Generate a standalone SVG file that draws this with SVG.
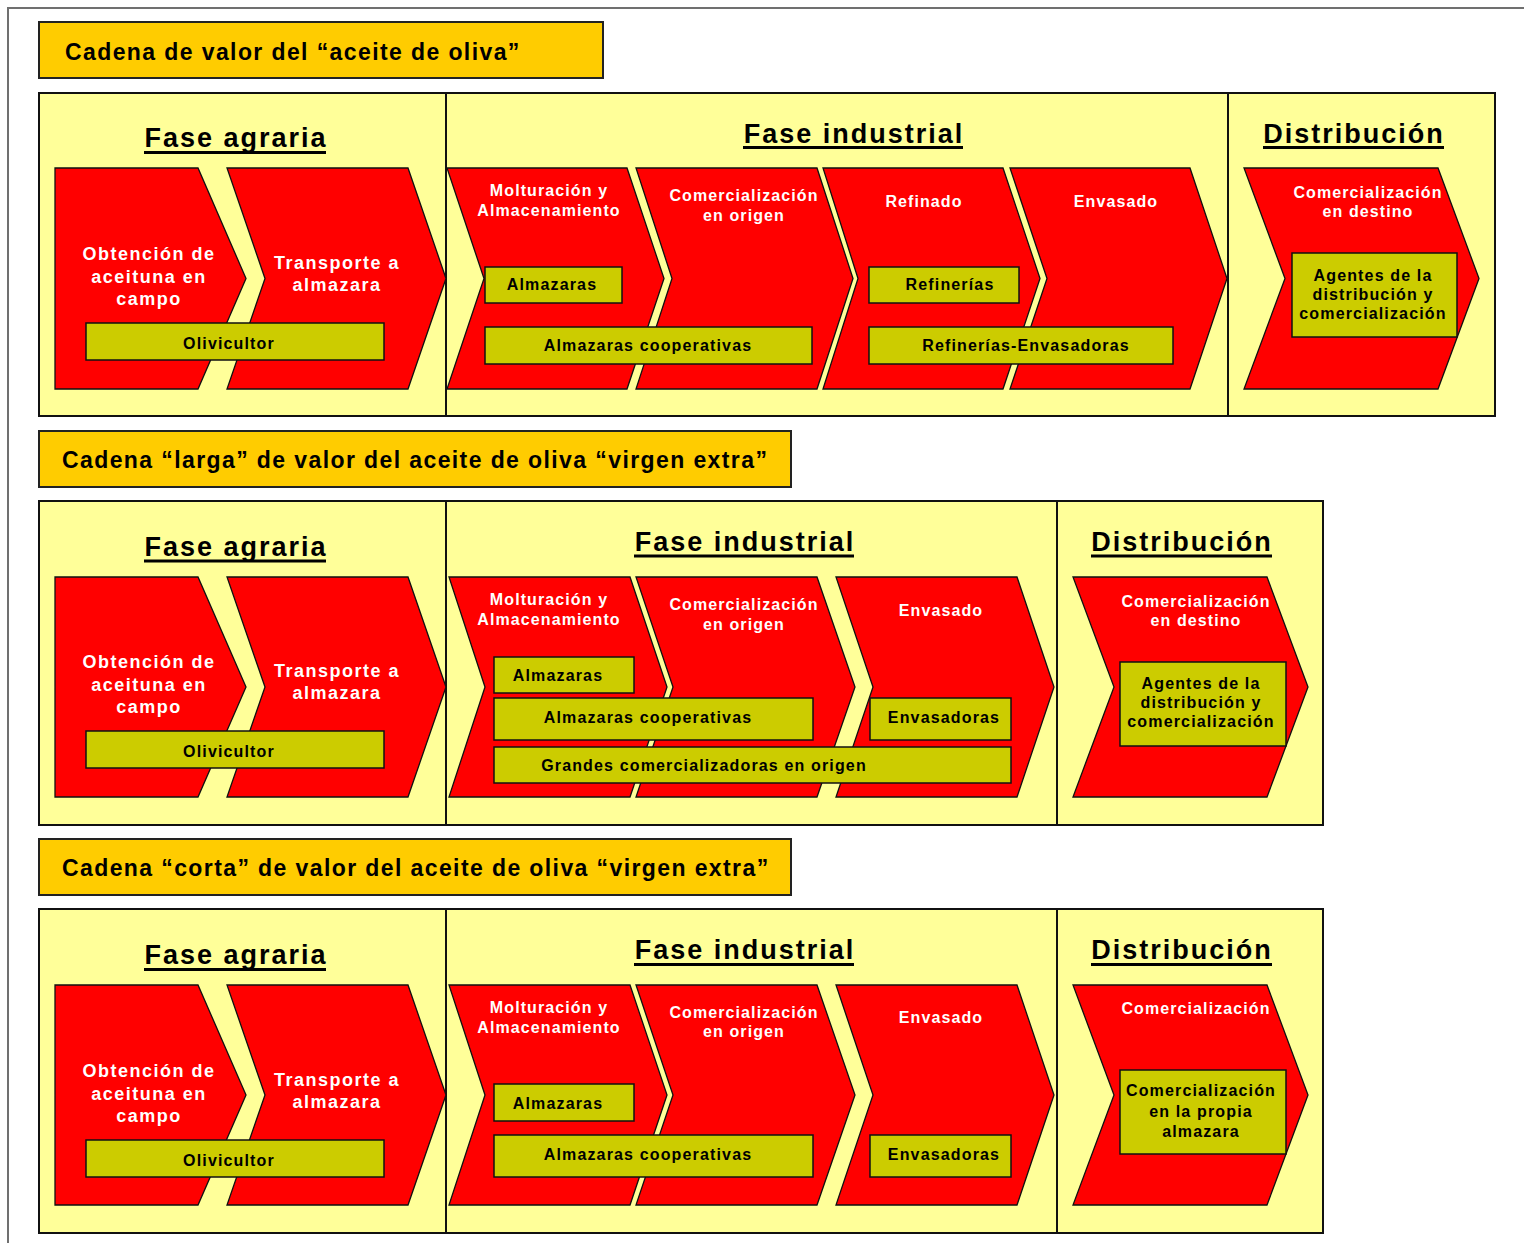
<svg xmlns="http://www.w3.org/2000/svg" width="1524" height="1243" viewBox="0 0 1524 1243">
  <style>
    text { font-family: "Liberation Sans", Arial, sans-serif; font-weight: bold; }
    .frame { fill: none; stroke: #707070; stroke-width: 2; }
    .ttlbox { fill: #FFCC00; stroke: #222; stroke-width: 2; }
    .ttl { font-size: 23px; letter-spacing: 1.4px; fill: #000; }
    .panel { fill: #FFFF99; stroke: #111; stroke-width: 2; }
    .div { stroke: #111; stroke-width: 2; }
    .hdr { font-size: 27px; letter-spacing: 2px; fill: #000; text-anchor: middle; }
    .ul { stroke: #000; stroke-width: 3; }
    .chev { fill: #FF0000; stroke: #111; stroke-width: 1.3; stroke-linejoin: miter; }
    .stepL { font-size: 18px; letter-spacing: 1.5px; fill: #fff; text-anchor: middle; }
    .step { font-size: 16px; letter-spacing: 1.1px; fill: #fff; text-anchor: middle; }
    .actbox { fill: #CCCC00; stroke: #111; stroke-width: 1.5; }
    .act { font-size: 16px; letter-spacing: 1.15px; fill: #000; text-anchor: middle; }
  </style>

  <!-- page frame -->
  <polyline class="frame" points="8,1243 8,8 1524,8"/>

  <!-- ===== Chain 1: olive oil ===== -->
  <g id="chain1">
    <g id="c1-title">
      <rect class="ttlbox" x="39" y="22" width="564" height="56"/>
      <text class="ttl" x="65" y="60">Cadena de valor del “aceite de oliva”</text>
    </g>
    <g id="c1-panel">
      <rect class="panel" x="39" y="93" width="1456" height="323"/>
      <line class="div" x1="446" y1="93" x2="446" y2="416"/>
      <line class="div" x1="1228" y1="93" x2="1228" y2="416"/>
    </g>
    <g id="c1-headers">
      <text class="hdr" x="236" y="147">Fase agraria</text>
      <line class="ul" x1="144" y1="152.5" x2="326" y2="152.5"/>
      <text class="hdr" x="854" y="143">Fase industrial</text>
      <line class="ul" x1="743" y1="147.5" x2="963" y2="147.5"/>
      <text class="hdr" x="1354" y="143">Distribución</text>
      <line class="ul" x1="1263" y1="147.5" x2="1444" y2="147.5"/>
    </g>
    <g id="c1-obtencion">
      <polygon class="chev" points="55,168 198,168 246,278.5 198,389 55,389"/>
      <text class="stepL" x="149" y="260">Obtención de</text>
      <text class="stepL" x="149" y="282.5">aceituna en</text>
      <text class="stepL" x="149" y="305">campo</text>
    </g>
    <g id="c1-transporte">
      <polygon class="chev" points="227,168 408,168 446,278.5 408,389 227,389 265,278.5"/>
      <text class="stepL" x="337" y="269">Transporte a</text>
      <text class="stepL" x="337" y="291">almazara</text>
    </g>
    <g id="c1-molturacion">
      <polygon class="chev" points="447,168 627,168 664,278.5 627,389 447,389 484,278.5"/>
      <text class="step" x="549" y="196">Molturación y</text>
      <text class="step" x="549" y="216">Almacenamiento</text>
    </g>
    <g id="c1-com-origen">
      <polygon class="chev" points="636,168 817,168 853,278.5 817,389 636,389 672,278.5"/>
      <text class="step" x="744" y="201">Comercialización</text>
      <text class="step" x="744" y="221">en origen</text>
    </g>
    <g id="c1-refinado">
      <polygon class="chev" points="823,168 1003,168 1040,278.5 1003,389 823,389 858,278.5"/>
      <text class="step" x="924" y="207">Refinado</text>
    </g>
    <g id="c1-envasado">
      <polygon class="chev" points="1010,168 1190,168 1227,278.5 1190,389 1010,389 1047,278.5"/>
      <text class="step" x="1116" y="207">Envasado</text>
    </g>
    <g id="c1-com-destino">
      <polygon class="chev" points="1244,168 1438,168 1479,278.5 1438,389 1244,389 1285,278.5"/>
      <text class="step" x="1368" y="198">Comercialización</text>
      <text class="step" x="1368" y="217">en destino</text>
    </g>
    <g id="c1-olivicultor">
      <rect class="actbox" x="86" y="323" width="298" height="37"/>
      <text class="act" x="229" y="349">Olivicultor</text>
    </g>
    <g id="c1-almazaras">
      <rect class="actbox" x="485" y="267" width="137" height="36"/>
      <text class="act" x="552" y="290">Almazaras</text>
    </g>
    <g id="c1-almazaras-coop">
      <rect class="actbox" x="485" y="327" width="327" height="37"/>
      <text class="act" x="648" y="351">Almazaras cooperativas</text>
    </g>
    <g id="c1-refinerias">
      <rect class="actbox" x="869" y="267" width="150" height="36"/>
      <text class="act" x="950" y="290">Refinerías</text>
    </g>
    <g id="c1-ref-env">
      <rect class="actbox" x="869" y="327" width="304" height="37"/>
      <text class="act" x="1026" y="351">Refinerías-Envasadoras</text>
    </g>
    <g id="c1-agentes">
      <rect class="actbox" x="1292" y="253" width="165" height="84"/>
      <text class="act" x="1373" y="281">Agentes de la</text>
      <text class="act" x="1373" y="300">distribución y</text>
      <text class="act" x="1373" y="319">comercialización</text>
    </g>
  </g>

  <!-- ===== Chain 2: long chain, extra virgin ===== -->
  <g id="chain2">
    <g id="c2-title">
      <rect class="ttlbox" x="39" y="431" width="752" height="56"/>
      <text class="ttl" x="62" y="468">Cadena “larga” de valor del aceite de oliva “virgen extra”</text>
    </g>
    <g id="c2-panel">
      <rect class="panel" x="39" y="501" width="1284" height="324"/>
      <line class="div" x1="446" y1="501" x2="446" y2="825"/>
      <line class="div" x1="1057" y1="501" x2="1057" y2="825"/>
    </g>
    <g id="c2-headers">
      <text class="hdr" x="236" y="556">Fase agraria</text>
      <line class="ul" x1="144" y1="561" x2="326" y2="561"/>
      <text class="hdr" x="745" y="551">Fase industrial</text>
      <line class="ul" x1="634" y1="556" x2="854" y2="556"/>
      <text class="hdr" x="1182" y="551">Distribución</text>
      <line class="ul" x1="1091" y1="556" x2="1272" y2="556"/>
    </g>
    <g id="c2-obtencion">
      <polygon class="chev" points="55,577 198,577 246,687 198,797 55,797"/>
      <text class="stepL" x="149" y="668">Obtención de</text>
      <text class="stepL" x="149" y="690.5">aceituna en</text>
      <text class="stepL" x="149" y="713">campo</text>
    </g>
    <g id="c2-transporte">
      <polygon class="chev" points="227,577 408,577 446,687 408,797 227,797 265,687"/>
      <text class="stepL" x="337" y="677">Transporte a</text>
      <text class="stepL" x="337" y="699">almazara</text>
    </g>
    <g id="c2-molturacion">
      <polygon class="chev" points="449,577 630,577 667,687 630,797 449,797 485,687"/>
      <text class="step" x="549" y="605">Molturación y</text>
      <text class="step" x="549" y="625">Almacenamiento</text>
    </g>
    <g id="c2-com-origen">
      <polygon class="chev" points="636,577 817,577 855,687 817,797 636,797 673,687"/>
      <text class="step" x="744" y="610">Comercialización</text>
      <text class="step" x="744" y="630">en origen</text>
    </g>
    <g id="c2-envasado">
      <polygon class="chev" points="836,577 1017,577 1054,687 1017,797 836,797 873,687"/>
      <text class="step" x="941" y="616">Envasado</text>
    </g>
    <g id="c2-com-destino">
      <polygon class="chev" points="1073,577 1267,577 1308,687 1267,797 1073,797 1114,687"/>
      <text class="step" x="1196" y="606.5">Comercialización</text>
      <text class="step" x="1196" y="626">en destino</text>
    </g>
    <g id="c2-olivicultor">
      <rect class="actbox" x="86" y="731" width="298" height="37"/>
      <text class="act" x="229" y="757">Olivicultor</text>
    </g>
    <g id="c2-almazaras">
      <rect class="actbox" x="494" y="657" width="140" height="36"/>
      <text class="act" x="558" y="681">Almazaras</text>
    </g>
    <g id="c2-almazaras-coop">
      <rect class="actbox" x="494" y="698" width="319" height="42"/>
      <text class="act" x="648" y="723">Almazaras cooperativas</text>
    </g>
    <g id="c2-envasadoras">
      <rect class="actbox" x="870" y="698" width="141" height="42"/>
      <text class="act" x="944" y="723">Envasadoras</text>
    </g>
    <g id="c2-grandes">
      <rect class="actbox" x="494" y="747" width="517" height="36"/>
      <text class="act" x="704" y="771">Grandes comercializadoras en origen</text>
    </g>
    <g id="c2-agentes">
      <rect class="actbox" x="1120" y="662" width="166" height="84"/>
      <text class="act" x="1201" y="689">Agentes de la</text>
      <text class="act" x="1201" y="708">distribución y</text>
      <text class="act" x="1201" y="727">comercialización</text>
    </g>
  </g>

  <!-- ===== Chain 3: short chain, extra virgin ===== -->
  <g id="chain3">
    <g id="c3-title">
      <rect class="ttlbox" x="39" y="839" width="752" height="56"/>
      <text class="ttl" x="62" y="876">Cadena “corta” de valor del aceite de oliva “virgen extra”</text>
    </g>
    <g id="c3-panel">
      <rect class="panel" x="39" y="909" width="1284" height="324"/>
      <line class="div" x1="446" y1="909" x2="446" y2="1233"/>
      <line class="div" x1="1057" y1="909" x2="1057" y2="1233"/>
    </g>
    <g id="c3-headers">
      <text class="hdr" x="236" y="964">Fase agraria</text>
      <line class="ul" x1="144" y1="969.5" x2="326" y2="969.5"/>
      <text class="hdr" x="745" y="959">Fase industrial</text>
      <line class="ul" x1="634" y1="964.5" x2="854" y2="964.5"/>
      <text class="hdr" x="1182" y="959">Distribución</text>
      <line class="ul" x1="1091" y1="964.5" x2="1272" y2="964.5"/>
    </g>
    <g id="c3-obtencion">
      <polygon class="chev" points="55,985 198,985 246,1095 198,1205 55,1205"/>
      <text class="stepL" x="149" y="1077">Obtención de</text>
      <text class="stepL" x="149" y="1099.5">aceituna en</text>
      <text class="stepL" x="149" y="1122">campo</text>
    </g>
    <g id="c3-transporte">
      <polygon class="chev" points="227,985 408,985 446,1095 408,1205 227,1205 265,1095"/>
      <text class="stepL" x="337" y="1086">Transporte a</text>
      <text class="stepL" x="337" y="1108">almazara</text>
    </g>
    <g id="c3-molturacion">
      <polygon class="chev" points="449,985 630,985 667,1095 630,1205 449,1205 485,1095"/>
      <text class="step" x="549" y="1013">Molturación y</text>
      <text class="step" x="549" y="1033">Almacenamiento</text>
    </g>
    <g id="c3-com-origen">
      <polygon class="chev" points="636,985 817,985 855,1095 817,1205 636,1205 673,1095"/>
      <text class="step" x="744" y="1018">Comercialización</text>
      <text class="step" x="744" y="1037">en origen</text>
    </g>
    <g id="c3-envasado">
      <polygon class="chev" points="836,985 1017,985 1054,1095 1017,1205 836,1205 873,1095"/>
      <text class="step" x="941" y="1023">Envasado</text>
    </g>
    <g id="c3-comercializacion">
      <polygon class="chev" points="1073,985 1267,985 1308,1095 1267,1205 1073,1205 1114,1095"/>
      <text class="step" x="1196" y="1014">Comercialización</text>
    </g>
    <g id="c3-olivicultor">
      <rect class="actbox" x="86" y="1140" width="298" height="37"/>
      <text class="act" x="229" y="1166">Olivicultor</text>
    </g>
    <g id="c3-almazaras">
      <rect class="actbox" x="494" y="1084" width="140" height="37"/>
      <text class="act" x="558" y="1108.5">Almazaras</text>
    </g>
    <g id="c3-almazaras-coop">
      <rect class="actbox" x="494" y="1135" width="319" height="42"/>
      <text class="act" x="648" y="1159.5">Almazaras cooperativas</text>
    </g>
    <g id="c3-envasadoras">
      <rect class="actbox" x="870" y="1135" width="141" height="42"/>
      <text class="act" x="944" y="1159.5">Envasadoras</text>
    </g>
    <g id="c3-propia">
      <rect class="actbox" x="1120" y="1070" width="166" height="84"/>
      <text class="act" x="1201" y="1096">Comercialización</text>
      <text class="act" x="1201" y="1116.5">en la propia</text>
      <text class="act" x="1201" y="1136.5">almazara</text>
    </g>
  </g>

  <!-- no connectors: stages abut one another -->
  <g id="connectors"/>
</svg>
